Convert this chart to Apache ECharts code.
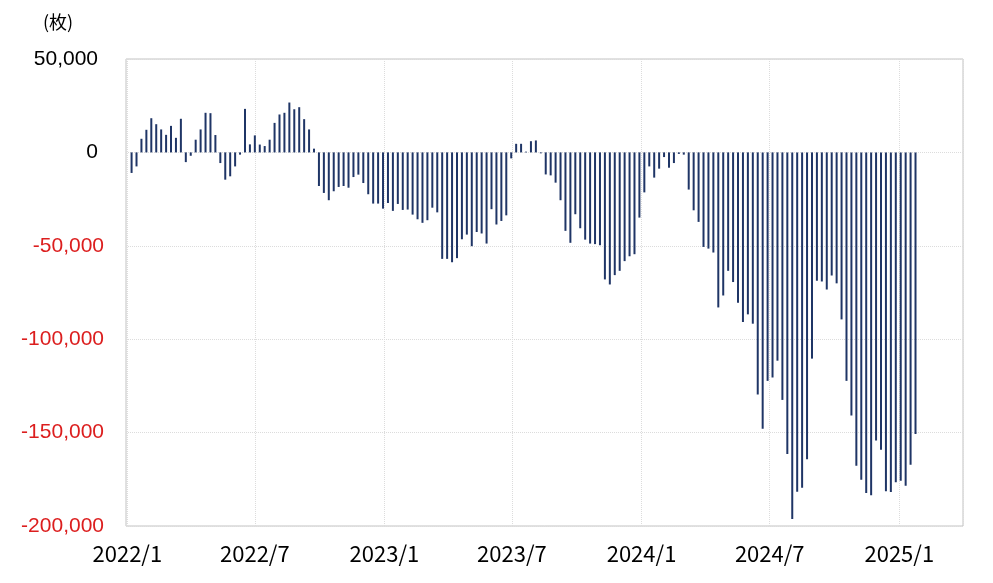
<!DOCTYPE html>
<html>
<head>
<meta charset="utf-8">
<script src="https://cdn.jsdelivr.net/npm/echarts@6/dist/echarts.min.js"></script>
<style>
  html, body { margin: 0; padding: 0; background: #fff; }
  #chart { width: 993px; height: 583px; }
</style>
</head>
<body>
<div id="chart"></div>
<script>
// Weekly dates (Fridays)
const weekDates = [
  '2022-01-07','2022-01-14','2022-01-21','2022-01-28','2022-02-04','2022-02-11','2022-02-18','2022-02-25',
  '2022-03-04','2022-03-11','2022-03-18','2022-03-25','2022-04-01','2022-04-08','2022-04-15','2022-04-22',
  '2022-04-29','2022-05-06','2022-05-13','2022-05-20','2022-05-27','2022-06-03','2022-06-10','2022-06-17',
  '2022-06-24','2022-07-01','2022-07-08','2022-07-15','2022-07-22','2022-07-29','2022-08-05','2022-08-12',
  '2022-08-19','2022-08-26','2022-09-02','2022-09-09','2022-09-16','2022-09-23','2022-09-30','2022-10-07',
  '2022-10-14','2022-10-21','2022-10-28','2022-11-04','2022-11-11','2022-11-18','2022-11-25','2022-12-02',
  '2022-12-09','2022-12-16','2022-12-23','2022-12-30',
  '2023-01-06','2023-01-13','2023-01-20','2023-01-27','2023-02-03','2023-02-10','2023-02-17','2023-02-24',
  '2023-03-03','2023-03-10','2023-03-17','2023-03-24','2023-03-31','2023-04-07','2023-04-14','2023-04-21',
  '2023-04-28','2023-05-05','2023-05-12','2023-05-19','2023-05-26','2023-06-02','2023-06-09','2023-06-16',
  '2023-06-23','2023-06-30','2023-07-07','2023-07-14','2023-07-21','2023-07-28','2023-08-04','2023-08-11',
  '2023-08-18','2023-08-25','2023-09-01','2023-09-08','2023-09-15','2023-09-22','2023-09-29','2023-10-06',
  '2023-10-13','2023-10-20','2023-10-27','2023-11-03','2023-11-10','2023-11-17','2023-11-24','2023-12-01',
  '2023-12-08','2023-12-15','2023-12-22','2023-12-29',
  '2024-01-05','2024-01-12','2024-01-19','2024-01-26','2024-02-02','2024-02-09','2024-02-16','2024-02-23',
  '2024-03-01','2024-03-08','2024-03-15','2024-03-22','2024-03-29','2024-04-05','2024-04-12','2024-04-19',
  '2024-04-26','2024-05-03','2024-05-10','2024-05-17','2024-05-24','2024-05-31','2024-06-07','2024-06-14',
  '2024-06-21','2024-06-28','2024-07-05','2024-07-12','2024-07-19','2024-07-26','2024-08-02','2024-08-09',
  '2024-08-16','2024-08-23','2024-08-30','2024-09-06','2024-09-13','2024-09-20','2024-09-27','2024-10-04',
  '2024-10-11','2024-10-18','2024-10-25','2024-11-01','2024-11-08','2024-11-15','2024-11-22','2024-11-29',
  '2024-12-06','2024-12-13','2024-12-20','2024-12-27',
  '2025-01-03','2025-01-10','2025-01-17','2025-01-24'
];

// Weekly net position (contracts)
const netPosition = [
  -11000, -7500, 7300, 12100, 18300, 15100, 12300, 9400,
  14200, 7800, 18000, -5200, -1800, 6800, 12300, 21200,
  21000, 9300, -5700, -14600, -12800, -7500, -1200, 23300,
  4300, 9100, 4200, 3400, 6800, 15800, 20300, 21200,
  26700, 23100, 24200, 17800, 12300, 2000, -18000, -21700,
  -25600, -20800, -18500, -18000, -18900, -13200, -11900, -16400,
  -22400, -27400, -27400, -30100,
  -27100, -31300, -27600, -30800, -30600, -33300, -35800, -37700,
  -36300, -29600, -32100, -57000, -57000, -58800, -56600, -46500,
  -44000, -50200, -42600, -43400, -48800, -30400, -38600, -36700,
  -33700, -3200, 4600, 4600, 400, 6000, 6400, -500,
  -11800, -12300, -16200, -25600, -42000, -48400, -33100, -40600,
  -46700, -48800, -49100, -49700, -68000, -70700, -65700, -63400,
  -58200, -55600, -54500, -34900,
  -21400, -7500, -13500, -8700, -2500, -8200, -5700, -800,
  -1200, -19900, -31000, -37200, -50600, -51500, -53600, -83000,
  -76600, -63400, -69400, -80500, -90800, -86700, -91700, -129600,
  -148000, -122300, -120500, -111500, -132500, -161500, -196200, -181600,
  -179500, -164200, -110400, -68700, -69100, -73400, -65900, -70100,
  -89400, -122300, -140800, -167700, -175200, -182300, -183600, -154200,
  -159200, -181400, -181800, -176600,
  -175800, -178400, -167200, -150800
];

const yTicks = [-200000, -150000, -100000, -50000, 0, 50000];
const xLabelMonths = [1, 7];
const unitLabel = '(枚)';

const chart = echarts.init(document.getElementById('chart'));
const DAY = 86400000;

chart.setOption({
  animation: false,
  backgroundColor: '#ffffff',
  title: {
    text: unitLabel,
    left: 38,
    top: 8,
    textStyle: { fontFamily: 'Noto Sans CJK JP', fontSize: 18, fontWeight: 'normal', color: '#000' }
  },
  grid: {
    left: 126, right: 30, top: 59, bottom: 57,
    show: true, borderColor: '#c3c3c3', borderWidth: 1, backgroundColor: 'transparent'
  },
  xAxis: {
    type: 'time',
    min: +new Date(2021, 11, 31, 12),
    max: +new Date(2025, 2, 31),
    minInterval: DAY * 186,
    maxInterval: DAY * 186,
    axisLine: { show: false },
    axisTick: { show: false },
    splitLine: {
      show: true,
      lineStyle: { color: '#dcdcdc', type: 'dotted', width: 1 }
    },
    axisLabel: {
      margin: 17,
      fontFamily: 'Noto Sans CJK JP',
      fontSize: 22,
      color: '#000',
      hideOverlap: false,
      formatter: function (v) {
        const d = new Date(v);
        const m = d.getMonth() + 1;
        if (d.getDate() === 1 && xLabelMonths.indexOf(m) >= 0) {
          return d.getFullYear() + '/' + m;
        }
        return '';
      }
    }
  },
  yAxis: {
    type: 'value',
    min: yTicks[0],
    max: yTicks[yTicks.length - 1],
    interval: 50000,
    axisLine: { show: false },
    axisTick: { show: false },
    splitLine: { show: true, lineStyle: { color: '#dcdcdc', type: 'dotted', width: 1 } },
    axisLabel: {
      margin: 22,
      fontFamily: 'Liberation Sans',
      fontSize: 21,
      formatter: function (v) {
        const s = (v < 0 ? '-' : '') + Math.abs(v).toLocaleString('en-US');
        return v < 0 ? '{neg|' + s + '}' : '{pos|' + s + '}';
      },
      rich: {
        neg: { color: '#dc1e1e', fontFamily: 'Liberation Sans', fontSize: 21 },
        pos: { color: '#000000', fontFamily: 'Liberation Sans', fontSize: 21, padding: [0, 6, 0, 0] }
      }
    }
  },
  series: [{
    type: 'bar',
    data: weekDates.map(function (d, i) { return [d, netPosition[i]]; }),
    barWidth: 2,
    itemStyle: { color: '#1f3566' },
    silent: true
  }]
});
</script>
</body>
</html>
